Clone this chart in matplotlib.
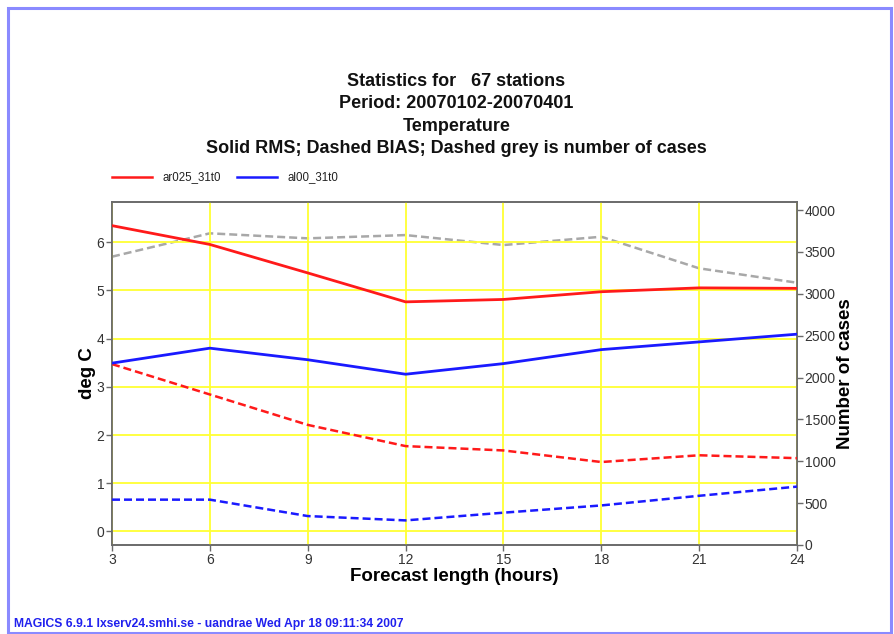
import matplotlib
matplotlib.use("Agg")
import matplotlib.pyplot as plt
from matplotlib.patches import Rectangle
from matplotlib.lines import Line2D

plt.rcParams['font.family'] = ['Liberation Sans', 'DejaVu Sans']

# Forecast lead times (hours)
lead_hours = [3, 6, 9, 12, 15, 18, 21, 24]

# RMS and BIAS (deg C) for the two experiments
rms_ar025 = [6.34, 5.95, 5.36, 4.76, 4.81, 4.97, 5.05, 5.04]
bias_ar025 = [3.47, 2.84, 2.21, 1.77, 1.68, 1.44, 1.58, 1.52]
rms_al00 = [3.49, 3.80, 3.56, 3.26, 3.48, 3.77, 3.93, 4.09]
bias_al00 = [0.66, 0.66, 0.32, 0.23, 0.39, 0.54, 0.74, 0.93]

# Number of cases at each lead time
n_cases = [3443, 3722, 3662, 3701, 3582, 3681, 3304, 3132]

exp_names = ["ar025_31t0", "al00_31t0"]
title_lines = ["Statistics for   67 stations",
               "Period: 20070102-20070401",
               "Temperature",
               "Solid RMS; Dashed BIAS; Dashed grey is number of cases"]
footer = "MAGICS 6.9.1 lxserv24.smhi.se - uandrae Wed Apr 18 09:11:34 2007"

W, H = 895, 634
fig = plt.figure(figsize=(W / 100, H / 100), dpi=100)

def fx(px):
    return px / W

def fy(py):
    return 1 - py / H

# page frame
fig.patches.append(Rectangle((fx(8), fy(633)), fx(883), (633 - 8) / H,
                             transform=fig.transFigure, fill=False,
                             edgecolor="#8a8aff", linewidth=2.2))

ax = fig.add_axes([fx(112), fy(545), fx(685), (545 - 202) / H])
ax2 = ax.twinx()

red = "#ff1a1a"
blue = "#1a1aff"
grey = "#a8a8a8"
dash = (0, (3.2, 1.6))

ax.plot(lead_hours, rms_ar025, color=red, lw=2.0, zorder=3)
ax.plot(lead_hours, bias_ar025, color=red, lw=1.8, ls=dash, zorder=3)
ax.plot(lead_hours, rms_al00, color=blue, lw=2.0, zorder=3)
ax.plot(lead_hours, bias_al00, color=blue, lw=1.8, ls=dash, zorder=3)
ax2.plot(lead_hours, n_cases, color=grey, lw=1.8, ls=dash)

ax.set_zorder(ax2.get_zorder() + 1)
ax.patch.set_visible(False)

ax.set_xlim(3, 24)
ax.set_ylim(-0.28, 6.83)
ax2.set_ylim(0, 4096)
ax.set_xticks(lead_hours)
ax.set_yticks(range(0, 7))
ax2.set_yticks(range(0, 4001, 500))

ax.grid(True, color="#ffff33", lw=1.3, zorder=0)

spine_c = "#6a6a6a"
for a in (ax, ax2):
    for s in a.spines.values():
        s.set_color(spine_c)
        s.set_linewidth(1.2)
    a.tick_params(colors=spine_c, labelcolor="#333333", labelsize=10,
                  length=4, width=1.0, direction="out", pad=1.5)

ax.set_ylabel("deg C", fontsize=13.5, fontweight="bold", labelpad=0)
ax2.set_ylabel("Number of cases", fontsize=13.5, fontweight="bold", labelpad=1)
ax.set_xlabel("Forecast length (hours)", fontsize=13.5, fontweight="bold",
              labelpad=1)

# title block
for i, line in enumerate(title_lines):
    fig.text(0.51, fy(81 + i * 22.6), line, ha="center", va="center",
             fontsize=13, fontweight="bold", color="#111111")

# legend
leg_y = fy(177)
for (x0, name, c) in [(112, exp_names[0], red), (237, exp_names[1], blue)]:
    fig.add_artist(Line2D([fx(x0), fx(x0 + 40)], [leg_y, leg_y],
                          transform=fig.transFigure, color=c, lw=1.8))
    fig.text(fx(x0 + 51), leg_y, name, ha="left", va="center",
             fontsize=8.3, color="#222222")

fig.text(fx(14), fy(624), footer, ha="left", va="center", fontsize=8.7,
         fontweight="bold", color="#2020ee")

fig.savefig("out.png", dpi=100)
